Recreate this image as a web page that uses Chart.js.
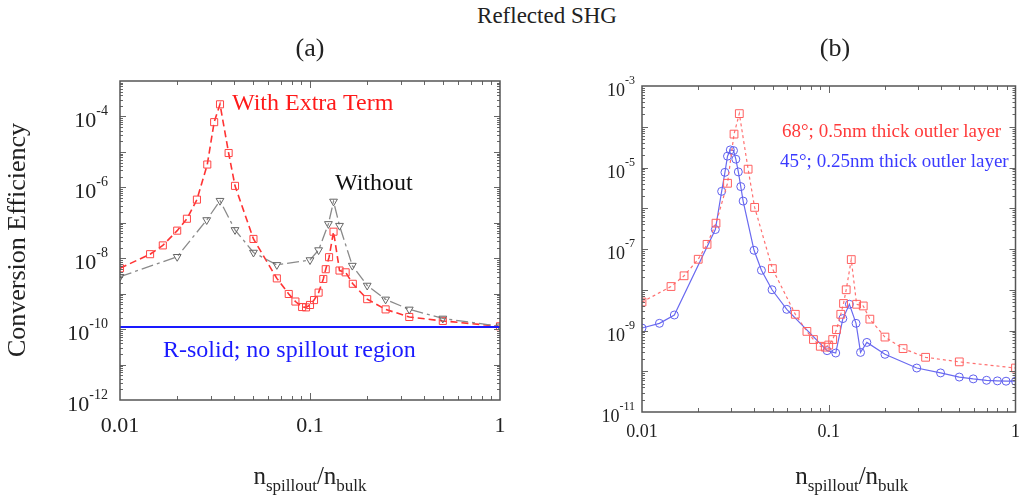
<!DOCTYPE html>
<html>
<head>
<meta charset="utf-8">
<script src="https://cdn.jsdelivr.net/npm/chart.js@4.4.1/dist/chart.umd.min.js"></script>
<style>
    body { margin: 0; background: #fff; width: 1022px; height: 503px; position: relative; overflow: hidden; font-family: "Liberation Serif", serif; }
    #wa { position: absolute; left: 0; top: 0; }
    #wb { position: absolute; left: 522px; top: 0; }
    #title { position: absolute; left: 447px; width: 200px; top: 3px; text-align: center; font-size: 23px; color: #222; }
</style>
</head>
<body>
<div id="title">Reflected SHG</div>
<div id="wa"><canvas id="chartA" width="522" height="503"></canvas></div>
<div id="wb"><canvas id="chartB" width="500" height="503"></canvas></div>
<script>
const SERIF = '"Liberation Serif", "Times New Roman", serif';

// ================= DATA: panel (a) =================
const xExtra = [0.01, 0.0144, 0.0168, 0.020, 0.0225, 0.0254, 0.0288, 0.0313, 0.0336, 0.0373, 0.0403, 0.0504, 0.0669, 0.0773, 0.0838, 0.0909, 0.0953, 0.1, 0.105, 0.111, 0.1175, 0.121, 0.126, 0.133, 0.143, 0.154, 0.168, 0.2, 0.25, 0.333, 0.5, 1];
const yExtra = [5.2e-9, 1.3e-8, 2.3e-8, 6e-8, 1.3e-7, 4.5e-7, 4.4e-6, 6.9e-5, 2.2e-4, 9.3e-6, 1.1e-6, 3.5e-8, 2.7e-9, 9.8e-10, 6e-10, 4.2e-10, 4.1e-10, 4.8e-10, 6.6e-10, 1.07e-9, 2.6e-9, 4.9e-9, 1.07e-8, 5.6e-8, 4.5e-9, 4e-9, 1.9e-9, 7e-10, 3.6e-10, 2.2e-10, 1.7e-10, 1.2e-10];

const xWithout = [0.01, 0.02, 0.0286, 0.0336, 0.0403, 0.0504, 0.0669, 0.1, 0.111, 0.125, 0.133, 0.143, 0.167, 0.2, 0.25, 0.333, 0.5, 1];
const yWithout = [3e-9, 1.1e-8, 1.2e-7, 4.2e-7, 6.3e-8, 1.45e-8, 6.5e-9, 8.9e-9, 1.7e-8, 9.3e-8, 4e-7, 8.3e-8, 6.2e-9, 1.7e-9, 6.9e-10, 3.6e-10, 2e-10, 1.2e-10];

const xSolid = [0.01, 1];
const ySolid = [1.15e-10, 1.15e-10];

// ================= DATA: panel (b) =================
const x68 = [0.01, 0.0143, 0.0168, 0.02, 0.0223, 0.0249, 0.0287, 0.0311, 0.0332, 0.037, 0.0401, 0.0499, 0.0662, 0.0764, 0.0828, 0.0901, 0.0958, 0.1, 0.105, 0.110, 0.116, 0.120, 0.124, 0.132, 0.141, 0.153, 0.166, 0.2, 0.25, 0.33, 0.5, 1];
const y68 = [5e-9, 1.2e-8, 2.2e-8, 5.6e-8, 1.3e-7, 4.3e-7, 4.1e-6, 6.6e-5, 2.1e-4, 9.1e-6, 1.05e-6, 3.3e-8, 2.5e-9, 9.5e-10, 6e-10, 4.1e-10, 3.9e-10, 4.4e-10, 6e-10, 1.05e-9, 2.5e-9, 4.6e-9, 1.0e-8, 5.5e-8, 4.4e-9, 4e-9, 1.9e-9, 6.9e-10, 3.6e-10, 2.2e-10, 1.7e-10, 1.2e-10];

const x45 = [0.01, 0.0124, 0.0149, 0.0247, 0.0267, 0.0278, 0.0287, 0.0297, 0.0309, 0.0318, 0.0328, 0.0338, 0.0348, 0.0398, 0.0436, 0.0497, 0.0596, 0.098, 0.109, 0.119, 0.129, 0.14, 0.148, 0.16, 0.2, 0.296, 0.397, 0.5, 0.594, 0.70, 0.8, 0.89, 1];
const y45 = [1.15e-9, 1.5e-9, 2.4e-9, 3e-7, 2.6e-6, 7.6e-6, 1.9e-5, 2.7e-5, 2.6e-5, 1.6e-5, 7.8e-6, 3.4e-6, 1.5e-6, 9.3e-8, 3e-8, 1.0e-8, 3.3e-9, 3.2e-10, 2.8e-10, 1.96e-9, 4.4e-9, 1.5e-9, 2.9e-10, 5.1e-10, 2.6e-10, 1.2e-10, 9.1e-11, 7.2e-11, 6.5e-11, 6e-11, 5.8e-11, 5.7e-11, 5.7e-11];

// ================= AXES =================
const xTickVals = [0.01, 0.1, 1];
const xTickLabels = ["0.01", "0.1", "1"];
const yExpA = [-12, -10, -8, -6, -4];
const yExpB = [-11, -9, -7, -5, -3];

function pts(xs, ys) {
    return xs.map((x, i) => ({ x: x, y: ys[i] }));
}

function line(ctx, x1, y1, x2, y2) {
    ctx.beginPath();
    ctx.moveTo(x1, y1);
    ctx.lineTo(x2, y2);
    ctx.stroke();
}

// frame, inner ticks, tick labels, titles, notes
function decor(p) {
    return {
        id: "decor",
        afterDatasetsDraw(chart) {
            const ctx = chart.ctx;
            const a = chart.chartArea;
            const xs = chart.scales.x;
            const ys = chart.scales.y;
            ctx.save();

            // inner ticks
            ctx.strokeStyle = "#666";
            ctx.lineWidth = 1;
            for (const d of [0.01, 0.1]) {
                for (let m = 1; m < 10; m++) {
                    const v = m * d;
                    if (v <= 0.01 || v >= 1) continue;
                    const px = Math.round(xs.getPixelForValue(v)) + 0.5;
                    const len = m === 1 ? 7 : 4;
                    line(ctx, px, a.bottom, px, a.bottom - len);
                    line(ctx, px, a.top, px, a.top + len);
                }
            }
            for (let e = p.yMinExp; e < p.yMaxExp; e++) {
                for (let m = 1; m < 10; m++) {
                    const v = m * Math.pow(10, e);
                    if (m === 1 && e === p.yMinExp) continue;
                    const py = Math.round(ys.getPixelForValue(v)) + 0.5;
                    const len = m === 1 ? 6 : 3;
                    line(ctx, a.left, py, a.left + len, py);
                    line(ctx, a.right, py, a.right - len, py);
                }
            }

            // frame
            ctx.strokeStyle = "#555";
            ctx.lineWidth = 1.5;
            ctx.strokeRect(a.left, a.top, a.right - a.left, a.bottom - a.top);

            // y tick labels
            ctx.fillStyle = "#222";
            ctx.textBaseline = "alphabetic";
            ctx.textAlign = "right";
            p.yExps.forEach(e => {
                const py = ys.getPixelForValue(Math.pow(10, e));
                const sup = "-" + Math.abs(e);
                ctx.font = p.supFont + "px " + SERIF;
                const sw = ctx.measureText(sup).width;
                ctx.fillText(sup, a.left - p.tickGap, py + p.supDy);
                ctx.font = p.tickFont + "px " + SERIF;
                ctx.fillText("10", a.left - p.tickGap - sw, py + p.tenDy);
            });

            // x tick labels
            ctx.textAlign = "center";
            ctx.font = p.xFont + "px " + SERIF;
            xTickVals.forEach((v, i) => {
                ctx.fillText(xTickLabels[i], xs.getPixelForValue(v), a.bottom + p.xDy);
            });

            // x axis title with subscripts
            const parts = [["n", 25, 0], ["spillout", 17, 7], ["/n", 25, 0], ["bulk", 17, 7]];
            let total = 0;
            parts.forEach(q => { ctx.font = q[1] + "px " + SERIF; total += ctx.measureText(q[0]).width; });
            let cx = (a.left + a.right) / 2 + p.xTitleShift - total / 2;
            ctx.textAlign = "left";
            parts.forEach(q => {
                ctx.font = q[1] + "px " + SERIF;
                ctx.fillText(q[0], cx, 484 + q[2]);
                cx += ctx.measureText(q[0]).width;
            });

            // panel label
            ctx.textAlign = "center";
            ctx.font = "26px " + SERIF;
            ctx.fillText(p.panel, p.panelX, 56);

            // y axis title
            if (p.yTitle) {
                ctx.save();
                ctx.translate(25, 240);
                ctx.rotate(-Math.PI / 2);
                ctx.font = "26px " + SERIF;
                ctx.fillText(p.yTitle, 0, 0);
                ctx.restore();
            }

            // notes
            ctx.textAlign = "left";
            p.notes.forEach(n => {
                ctx.font = n.size + "px " + SERIF;
                ctx.fillStyle = n.color;
                ctx.fillText(n.text, n.x, n.y);
            });

            ctx.restore();
        }
    };
}

function makeChart(id, datasets, yMin, yMax, padding, p) {
    return new Chart(document.getElementById(id), {
        type: "line",
        data: { datasets: datasets },
        options: {
            responsive: false,
            animation: false,
            layout: { padding: padding },
            plugins: { legend: { display: false }, tooltip: { enabled: false } },
            elements: { line: { tension: 0 } },
            scales: {
                x: { type: "logarithmic", min: 0.01, max: 1, display: false },
                y: { type: "logarithmic", min: yMin, max: yMax, display: false }
            }
        },
        plugins: [decor(p)]
    });
}

// ================= CHART (a) =================
makeChart("chartA", [
    {
        data: pts(xSolid, ySolid),
        borderColor: "#1a1aff",
        borderWidth: 2,
        pointRadius: 0
    },
    {
        data: pts(xWithout, yWithout),
        borderColor: "#8a8a8a",
        borderWidth: 1.3,
        borderDash: [12, 4, 3, 4],
        pointStyle: "triangle",
        rotation: 180,
        pointRadius: 4.5,
        pointBorderColor: "#666",
        pointBackgroundColor: "rgba(0,0,0,0)",
        pointBorderWidth: 1
    },
    {
        data: pts(xExtra, yExtra),
        borderColor: "#ff3333",
        borderWidth: 1.6,
        borderDash: [7, 4],
        pointStyle: "rect",
        pointRadius: 5,
        pointBorderColor: "#ff4444",
        pointBackgroundColor: "rgba(0,0,0,0)",
        pointBorderWidth: 1
    }
], 1e-12, 1e-3, { left: 120, right: 22, top: 81, bottom: 103 }, {
    yExps: yExpA, yMinExp: -12, yMaxExp: -3,
    tickFont: 22, supFont: 14, tickGap: 12, tenDy: 10.5, supDy: -1,
    xFont: 22, xDy: 32, xTitleShift: 0,
    panel: "(a)", panelX: 310,
    yTitle: "Conversion Efficiency",
    notes: [
        { text: "With Extra Term", x: 232, y: 110, size: 24, color: "#ff1a1a" },
        { text: "Without", x: 335, y: 190, size: 24, color: "#111" },
        { text: "R-solid; no spillout region", x: 163, y: 357, size: 24, color: "#1a1aff" }
    ]
});

// ================= CHART (b) =================
makeChart("chartB", [
    {
        data: pts(x68, y68),
        borderColor: "#ff7070",
        borderWidth: 1.2,
        borderDash: [3, 3],
        pointStyle: "rect",
        pointRadius: 5.5,
        pointBorderColor: "#ff6060",
        pointBackgroundColor: "rgba(0,0,0,0)",
        pointBorderWidth: 1
    },
    {
        data: pts(x45, y45),
        borderColor: "#6a6af0",
        borderWidth: 1.2,
        pointStyle: "circle",
        pointRadius: 4,
        pointBorderColor: "#6060ee",
        pointBackgroundColor: "rgba(0,0,0,0)",
        pointBorderWidth: 1
    }
], 1e-11, 1e-3, { left: 120, right: 2, top: 86, bottom: 91 }, {
    yExps: yExpB, yMinExp: -11, yMaxExp: -3,
    tickFont: 18, supFont: 12, tickGap: 7, tenDy: 10, supDy: -2,
    xFont: 18, xDy: 25, xTitleShift: 23,
    panel: "(b)", panelX: 313,
    yTitle: null,
    notes: [
        { text: "68°; 0.5nm thick outler layer", x: 260, y: 137, size: 19, color: "#ff3a3a" },
        { text: "45°; 0.25nm thick outler layer", x: 258, y: 167, size: 19, color: "#3a3aff" }
    ]
});
</script>
</body>
</html>
